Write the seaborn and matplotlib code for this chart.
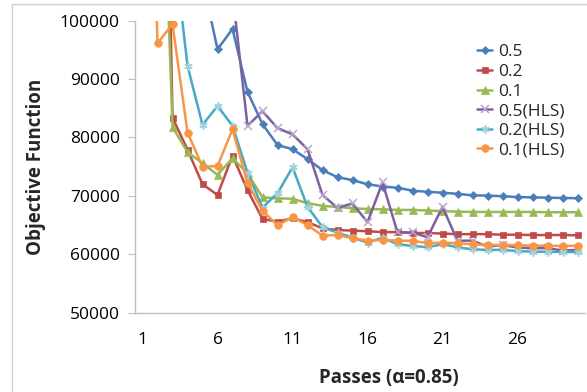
import matplotlib
matplotlib.use("Agg")
import matplotlib.pyplot as plt
import numpy as np
import pandas as pd
import seaborn as sns
from matplotlib.patches import Rectangle

# Values (points above 100000 are off-chart estimates)
passes = list(range(1, 31))
series_names = ["0.5", "0.2", "0.1", "0.5(HLS)", "0.2(HLS)", "0.1(HLS)"]

obj_05 = [130000, 125000, 118000, 112000, 107000, 95100, 98600, 87800, 82300, 78700,
          78000, 76300, 74400, 73200, 72700, 72000, 71600, 71400, 70900, 70700,
          70550, 70350, 70100, 70050, 69950, 69800, 69750, 69700, 69650, 69600]
obj_02 = [230000, 212000, 83400, 77900, 72000, 70150, 76900, 71000, 66050, 65600,
          66150, 65500, 64450, 64150, 64050, 63950, 63800, 63800, 63650, 63650,
          63550, 63450, 63450, 63450, 63350, 63350, 63300, 63300, 63300, 63250]
obj_01 = [170000, 155000, 81800, 77500, 75600, 73600, 76450, 73850, 69750, 69600,
          69500, 68750, 68300, 68100, 67900, 67750, 67700, 67600, 67600, 67500,
          67400, 67300, 67250, 67250, 67250, 67250, 67250, 67200, 67200, 67200]
obj_05_hls = [150000, 140000, 130000, 122000, 116000, 110000, 104700, 82000, 84500, 81600,
              80550, 78000, 70150, 67950, 68700, 65500, 72300, 63750, 63750, 62900,
              68150, 62300, 62350, 61300, 61600, 61150, 61050, 61050, 60650, 60750]
obj_02_hls = [160000, 135000, 114500, 92300, 82150, 85400, 82000, 74000, 68000, 70450,
              74900, 68150, 64650, 63700, 62850, 62000, 62850, 61700, 61450, 61200,
              61750, 61200, 60850, 60750, 60750, 60550, 60450, 60450, 60400, 60400]
obj_01_hls = [181000, 96150, 99400, 80850, 75000, 75100, 81400, 72250, 67450, 65000,
              66350, 65000, 63200, 63300, 62750, 62350, 62450, 62350, 62300, 61900,
              62000, 61900, 61700, 61600, 61600, 61550, 61500, 61450, 61450, 61450]

y_ticks = [50000, 60000, 70000, 80000, 90000, 100000]
x_ticks = [1, 6, 11, 16, 21, 26]

colors = ["#4A7EBB", "#BE4B48", "#98B954", "#7D60A0", "#46AAC5", "#F79646"]
edge_colors = ["#4A7EBB", "#BE4B48", "#98B954", "#B8A8CF", "#9FD3E2", "#F79646"]
markers = ["D", "s", "^", "x", (6, 2, 0), "o"]
msizes = [4.5, 5, 5.5, 5.5, 6, 5.5]

values = [obj_05, obj_02, obj_01, obj_05_hls, obj_02_hls, obj_01_hls]
df = pd.DataFrame({
    "Pass": passes * len(series_names),
    "Objective": np.concatenate(values),
    "Series": np.repeat(series_names, len(passes)),
})

sns.set_theme(style="white")
plt.rcParams["font.family"] = ["Open Sans", "DejaVu Sans"]

fig = plt.figure(figsize=(5.87, 3.92), dpi=100)
ax = fig.add_axes([0.230, 0.2023, 0.7666, 0.7449])

for name, color, ec, marker, ms in zip(series_names, colors, edge_colors, markers, msizes):
    sub = df[df["Series"] == name]
    line_marker = marker in ("x", (6, 2, 0))
    sns.lineplot(
        data=sub, x="Pass", y="Objective", ax=ax, color=color, label=name,
        marker=marker, markersize=ms, linewidth=1.8,
        markeredgecolor=ec, markeredgewidth=1.1 if line_marker else 0.5,
    )

ax.set_xlim(0.5, 30.5)
ax.set_ylim(50000, 100000)
ax.set_yticks(y_ticks)
ax.set_xticks(x_ticks)
ax.tick_params(axis="y", labelsize=12.5, length=5, width=0.8,
               direction="out", pad=6, left=True, color="#BFBFBF")
ax.tick_params(axis="x", labelsize=12.5, length=0, pad=14)
for lab in ax.get_yticklabels() + ax.get_xticklabels():
    lab.set_color("black")

for side in ("top", "right"):
    ax.spines[side].set_visible(False)
for side in ("left", "bottom"):
    ax.spines[side].set_color("#BFBFBF")
    ax.spines[side].set_linewidth(1.0)

ax.set_xlabel("Passes (α=0.85)", fontsize=13.5, fontweight="bold")
ax.set_ylabel("Objective Function", fontsize=13.5, fontweight="bold", labelpad=10)
ax.xaxis.set_label_coords(0.564, -0.19)

ax.legend(loc="upper left", bbox_to_anchor=(0.744, 0.943), frameon=False,
          fontsize=12.5, handlelength=0.9, handletextpad=0.35, labelspacing=0.2,
          borderaxespad=0)

fig.add_artist(Rectangle((12 / 587, -0.1), 1.0, (392 - 4) / 392 + 0.1,
                         transform=fig.transFigure, fill=False,
                         edgecolor="#D0D0D0", linewidth=1.0))

fig.savefig("out.png", dpi=100)
